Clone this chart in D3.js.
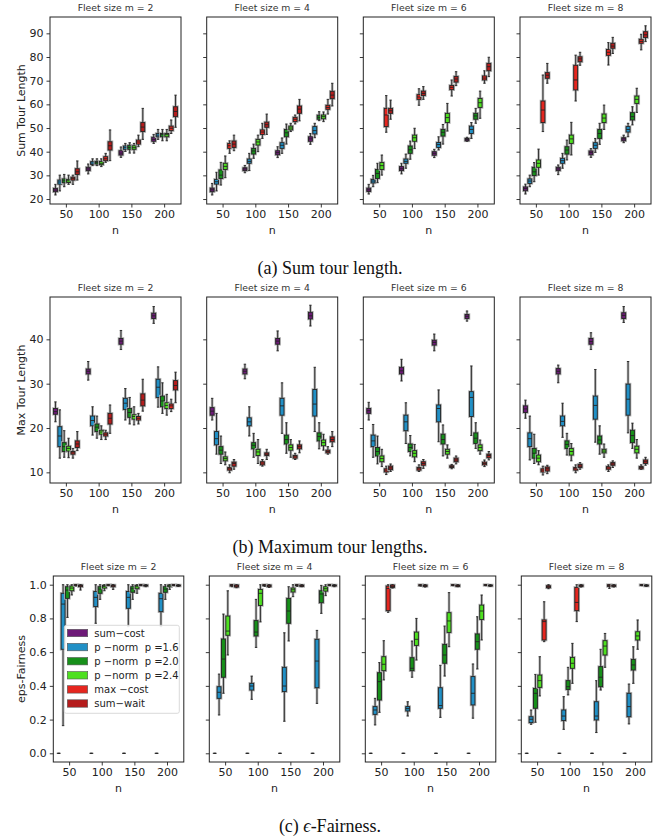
<!DOCTYPE html>
<html>
<head>
<meta charset="utf-8">
<script src="https://cdn.jsdelivr.net/npm/d3@7"></script>
<style>
  body { margin: 0; background: #fff; }
  svg { display: block; }
  .tick text { font-family: "DejaVu Sans", sans-serif; font-size: 11px; fill: #222; }
  .tick line { stroke: #222; stroke-width: 0.9; }
</style>
</head>
<body>
<svg id="fig" width="661" height="837"></svg>
<script>
// ---- categories and labels ----
const nValues = [50, 100, 150, 200];
const fleetSizes = [2, 4, 6, 8];
const methods = ["sum\u2212cost", "p \u2212norm  p =1.6", "p \u2212norm  p =2.0",
                 "p \u2212norm  p =2.4", "max \u2212cost", "sum\u2212wait"];
const methodColors = ["#6e1a78", "#2190c6", "#17901a", "#4ee020", "#e5261f", "#b51c1c"];

const sumTourTicks = [20, 30, 40, 50, 60, 70, 80, 90];
const maxTourTicks = [10, 20, 30, 40];
const fairnessTicks = [0, 0.2, 0.4, 0.6, 0.8, 1.0];

// ---- box statistics: [whisker low, q1, median, q3, whisker high] ----
// rows ordered by n (50, 100, 150, 200), then by method
const sumTourM2 = [
  [21.7,23.1,23.8,24.5,26.2],[23.4,26.3,27.2,28.0,30.1],[25.2,26.9,27.7,28.5,30.4],[26.2,27.0,27.7,28.3,30.1],[26.2,28.0,28.6,29.2,30.1],[28.0,30.4,31.5,32.8,36.1],
  [30.6,32.0,32.7,33.4,34.8],[34.1,34.6,35.2,35.8,37.0],[34.1,34.8,35.4,35.9,37.0],[33.7,34.5,35.1,35.9,37.0],[35.5,36.2,37.0,37.9,39.3],[36.2,40.7,42.5,44.2,49.2],
  [37.6,38.6,39.4,40.4,42.0],[40.1,41.0,41.7,42.4,43.5],[39.4,41.0,41.8,42.7,43.8],[39.4,41.0,41.7,42.5,43.5],[42.1,43.2,44.1,44.9,47.0],[45.2,48.5,50.4,52.3,58.3],
  [43.5,44.4,45.2,46.1,47.3],[45.2,46.3,47.0,47.7,49.4],[44.6,46.3,47.2,47.7,49.4],[44.6,46.3,47.2,47.7,49.4],[47.7,48.9,49.9,50.8,53.4],[50.3,54.8,57.0,59.0,63.9]
];
const sumTourM4 = [
  [21.7,23.1,23.9,24.6,26.6],[23.4,26.3,27.3,28.3,31.3],[25.9,28.7,30.1,32.3,35.5],[29.0,32.5,33.8,35.1,38.2],[39.3,41.4,42.5,43.5,44.6],[40.4,41.8,43.2,44.5,47.0],
  [31.1,32.0,32.7,33.2,34.2],[32.0,35.1,35.9,36.9,39.3],[37.2,39.0,40.3,41.4,43.2],[40.0,42.8,44.1,45.2,47.0],[45.6,47.3,48.3,49.2,52.0],[47.3,50.3,51.4,52.5,55.9],
  [37.5,38.7,39.6,40.4,42.1],[39.3,41.4,42.7,43.8,45.8],[43.2,46.3,48.0,49.4,51.7],[48.5,49.2,50.0,50.8,52.0],[51.7,52.7,53.7,54.5,55.5],[53.0,56.2,58.0,59.3,62.1],
  [43.1,44.4,45.4,46.3,47.7],[45.9,47.5,48.9,50.6,52.0],[53.1,53.7,54.5,55.4,56.9],[52.7,53.9,54.8,55.5,56.8],[55.9,57.9,58.7,59.6,62.1],[59.3,62.4,63.9,65.5,68.9]
];
const sumTourM6 = [
  [22.1,23.2,23.9,24.6,26.2],[25.2,26.8,27.6,28.3,30.0],[26.9,28.7,30.8,32.5,35.1],[30.1,32.5,34.1,35.4,38.6],[48.2,50.6,55.5,58.3,63.7],[53.7,56.2,57.3,58.3,61.8],
  [30.6,32.0,32.8,33.7,35.1],[33.0,35.1,35.9,36.9,39.0],[36.8,39.3,40.8,42.4,44.5],[41.3,44.4,45.9,47.0,49.9],[59.6,62.1,63.1,64.1,66.6],[62.1,63.7,64.6,65.6,67.5],
  [37.5,38.5,39.3,40.0,41.0],[40.7,41.8,43.0,43.9,46.3],[43.2,46.6,48.2,49.4,51.5],[48.7,52.3,54.4,56.2,60.4],[63.5,66.2,67.2,68.0,70.3],[67.9,69.4,70.7,71.8,73.8],
  [44.4,44.6,45.1,45.6,46.1],[45.6,47.7,49.4,50.8,52.3],[52.0,53.7,55.1,56.2,58.3],[54.1,58.7,60.7,62.5,65.6],[68.9,70.3,71.1,72.0,74.2],[71.7,74.2,75.9,77.3,79.9]
];
const sumTourM8 = [
  [22.1,23.5,24.4,25.1,26.3],[25.2,26.6,27.6,28.5,30.1],[27.3,29.9,31.5,33.4,35.4],[30.1,33.4,35.1,36.5,41.1],[48.5,52.3,57.6,61.4,72.4],[68.9,71.0,72.3,73.4,77.3],
  [30.3,32.0,32.7,33.4,34.4],[33.0,35.1,36.2,37.2,39.3],[36.5,39.0,40.7,42.1,44.9],[38.6,43.5,45.4,47.0,52.4],[61.4,66.1,70.3,76.5,80.8],[76.5,78.0,79.2,80.1,82.0],
  [37.6,38.7,39.6,40.3,41.3],[39.7,41.4,42.7,43.8,45.6],[43.1,45.6,47.7,49.4,52.0],[49.4,52.3,54.2,55.9,59.7],[76.6,80.7,82.0,83.2,86.1],[81.5,83.7,84.6,85.8,88.3],
  [43.8,44.6,45.4,45.9,47.0],[46.3,48.3,49.4,50.6,52.0],[51.3,53.4,54.8,56.5,59.0],[56.6,60.4,62.1,63.5,66.8],[83.0,85.8,86.6,87.5,89.6],[86.5,88.2,89.4,90.7,93.2]
];

const maxTourM2 = [
  [21.4,23.1,23.7,24.4,25.9],[13.2,15.8,18.2,20.3,24.1],[13.4,14.7,15.8,16.7,19.4],[13.3,14.8,15.4,15.9,17.7],[13.2,14.1,14.4,14.7,15.4],[14.9,15.6,16.4,17.1,19.2],
  [30.8,32.2,32.8,33.3,35.0],[18.4,20.5,21.7,22.7,24.8],[17.7,19.2,20.2,20.9,22.7],[17.4,18.6,19.1,19.5,20.5],[17.4,18.2,18.6,18.9,19.5],[18.8,20.9,22.2,23.3,25.2],
  [37.7,38.9,39.6,40.2,42.0],[21.8,24.2,25.6,26.7,28.9],[20.9,22.4,23.5,24.4,26.9],[20.7,22.0,22.6,23.0,24.8],[20.9,21.8,22.2,22.6,23.3],[23.8,25.0,26.3,27.7,31.0],
  [43.6,44.7,45.3,45.9,47.4],[24.7,26.9,29.2,31.0,33.8],[23.3,24.8,26.1,27.2,30.2],[22.9,24.4,25.1,25.7,27.6],[23.7,24.4,25.0,25.4,26.5],[25.7,28.6,29.6,30.7,32.6]
];
const maxTourM4 = [
  [21.8,22.9,23.8,24.6,26.7],[14.1,16.2,17.6,19.2,23.3],[12.0,14.1,15.0,15.8,18.2],[11.7,12.6,13.1,13.5,14.6],[9.9,10.5,10.8,11.1,11.7],[10.7,11.4,12.0,12.3,12.9],
  [31.1,32.2,32.8,33.3,34.4],[18.2,20.5,21.4,22.3,24.8],[13.4,15.3,16.1,16.7,18.8],[12.0,13.8,14.6,15.2,17.4],[11.4,11.7,12.1,12.4,12.9],[12.9,13.8,14.1,14.4,15.2],
  [37.4,38.9,39.6,40.2,41.9],[18.8,22.9,25.0,26.7,30.2],[14.3,16.4,17.4,18.4,21.2],[13.4,15.0,15.6,16.2,17.4],[12.9,13.2,13.5,13.8,14.3],[14.4,15.3,15.8,16.2,17.1],
  [43.0,44.6,45.3,46.1,47.7],[19.2,22.7,25.4,28.7,33.7],[15.3,17.1,18.1,18.9,21.2],[15.0,16.0,16.7,17.3,18.6],[14.1,14.4,14.7,15.0,15.8],[15.8,16.9,17.4,18.0,19.2]
];
const maxTourM6 = [
  [21.8,23.3,23.9,24.4,25.8],[13.4,15.8,17.1,18.4,20.8],[11.9,13.7,14.7,15.6,18.2],[11.3,12.4,13.1,13.7,15.2],[9.5,10.1,10.5,10.8,11.4],[10.2,10.6,11.0,11.4,11.9],
  [30.6,32.2,32.9,33.7,35.5],[16.5,19.4,21.4,22.9,25.7],[13.7,14.7,15.6,16.4,18.3],[12.4,13.5,14.3,14.9,16.3],[10.2,10.5,10.8,11.1,11.7],[10.9,11.6,12.0,12.4,12.9],
  [37.4,38.7,39.3,39.8,41.2],[16.9,21.4,24.4,25.2,28.6],[13.7,16.4,17.4,18.6,20.7],[13.2,14.1,14.7,15.2,16.2],[10.8,11.1,11.3,11.5,11.8],[11.9,12.4,12.8,13.2,13.7],
  [44.1,44.7,45.2,45.6,46.4],[18.3,22.6,26.9,28.2,34.0],[15.4,16.5,17.7,18.9,21.2],[14.1,14.9,15.6,16.2,17.3],[11.3,11.7,12.0,12.3,12.8],[12.8,13.3,13.8,14.1,14.7]
];
const maxTourM8 = [
  [22.2,23.5,24.3,25.0,26.3],[12.8,15.8,17.6,18.9,22.7],[12.0,13.2,14.3,15.4,18.6],[11.7,12.4,13.2,13.9,14.9],[9.4,10.1,10.5,10.8,11.4],[9.7,10.3,10.8,11.2,11.6],
  [30.2,32.2,32.8,33.4,34.2],[17.9,20.5,21.5,22.7,25.6],[13.9,15.4,16.3,17.1,18.8],[12.6,13.9,14.7,15.4,16.5],[9.9,10.5,10.8,11.1,11.7],[10.7,11.1,11.4,11.8,12.2],
  [37.7,38.9,39.5,40.2,41.5],[16.8,22.0,25.1,27.2,33.2],[14.1,16.4,17.3,18.2,20.5],[13.4,14.4,14.8,15.2,16.4],[10.2,10.7,11.0,11.3,11.7],[11.1,11.6,11.9,12.2,12.6],
  [43.8,44.7,45.4,46.0,47.4],[18.9,22.9,26.5,29.9,35.0],[15.4,16.7,18.3,19.5,21.1],[13.2,14.4,15.2,15.9,17.4],[10.7,10.8,11.1,11.3,11.7],[11.6,12.0,12.4,12.8,13.4]
];

const fairnessM2 = [
  [0,0,0,0,0],[0.164,0.617,0.885,0.949,1.0],[0.806,0.919,0.968,0.988,1.0],[0.939,0.964,0.980,0.992,1.0],[0.992,0.996,0.998,1.0,1.0],[0.968,0.988,0.994,0.998,1.0],
  [0,0,0,0,0],[0.771,0.870,0.925,0.960,1.0],[0.913,0.949,0.974,0.988,1.0],[0.964,0.980,0.990,0.996,1.0],[0.994,0.996,0.998,1.0,1.0],[0.972,0.988,0.994,0.998,1.0],
  [0,0,0,0,0],[0.751,0.860,0.925,0.960,1.0],[0.913,0.955,0.976,0.988,1.0],[0.949,0.976,0.988,0.996,1.0],[0.994,0.996,0.998,1.0,1.0],[0.988,0.992,0.995,0.998,1.0],
  [0,0,0,0,0],[0.751,0.840,0.917,0.949,1.0],[0.913,0.955,0.974,0.988,1.0],[0.972,0.988,0.994,0.998,1.0],[0.994,0.996,0.998,1.0,1.0],[0.990,0.992,0.995,0.998,1.0]
];
const fairnessM4 = [
  [0,0,0,0,0],[0.227,0.326,0.362,0.395,0.470],[0.356,0.451,0.559,0.678,0.826],[0.583,0.700,0.725,0.814,0.964],[0.988,0.992,0.996,1.0,1.0],[0.982,0.986,0.992,0.998,1.0],
  [0,0,0,0,0],[0.320,0.375,0.399,0.415,0.458],[0.628,0.696,0.719,0.787,0.913],[0.779,0.877,0.949,0.972,1.0],[0.990,0.994,0.997,1.0,1.0],[0.984,0.988,0.994,0.998,1.0],
  [0,0,0,0,0],[0.190,0.366,0.399,0.510,0.715],[0.666,0.771,0.844,0.919,0.988],[0.929,0.957,0.970,0.980,1.0],[0.990,0.994,0.997,1.0,1.0],[0.988,0.990,0.994,0.998,1.0],
  [0,0,0,0,0],[0.296,0.389,0.547,0.676,0.729],[0.830,0.893,0.945,0.964,0.996],[0.935,0.962,0.976,0.988,1.0],[0.994,0.996,0.998,1.0,1.0],[0.988,0.992,0.995,0.998,1.0]
];
const fairnessM6 = [
  [0,0,0,0,0],[0.168,0.231,0.257,0.277,0.326],[0.243,0.316,0.425,0.478,0.538],[0.435,0.490,0.528,0.573,0.668],[0.836,0.846,0.978,0.992,1.0],[0.980,0.984,0.990,0.998,1.0],
  [0,0,0,0,0],[0.221,0.251,0.265,0.277,0.306],[0.451,0.490,0.504,0.567,0.666],[0.553,0.640,0.676,0.719,0.800],[0.992,0.994,0.997,1.0,1.0],[0.986,0.990,0.994,0.998,1.0],
  [0,0,0,0,0],[0.213,0.267,0.283,0.389,0.522],[0.458,0.534,0.583,0.646,0.755],[0.632,0.717,0.785,0.834,0.953],[0.994,0.996,0.998,1.0,1.0],[0.988,0.990,0.994,0.998,1.0],
  [0,0,0,0,0],[0.208,0.287,0.356,0.455,0.530],[0.500,0.617,0.662,0.708,0.810],[0.672,0.794,0.844,0.879,0.939],[0.994,0.996,0.998,1.0,1.0],[0.990,0.992,0.995,0.998,1.0]
];
const fairnessM8 = [
  [0,0,0,0,0],[0.172,0.182,0.202,0.217,0.257],[0.184,0.267,0.356,0.385,0.468],[0.340,0.391,0.431,0.464,0.573],[0.662,0.672,0.781,0.791,0.899],[0.976,0.982,0.988,0.994,1.0],
  [0,0,0,0,0],[0.142,0.194,0.221,0.257,0.336],[0.346,0.379,0.395,0.431,0.510],[0.415,0.504,0.534,0.569,0.652],[0.781,0.846,0.895,0.984,1.0],[0.986,0.990,0.994,0.998,1.0],
  [0,0,0,0,0],[0.123,0.198,0.221,0.306,0.431],[0.375,0.395,0.451,0.514,0.617],[0.510,0.583,0.636,0.668,0.711],[0.978,0.990,0.995,1.0,1.0],[0.986,0.990,0.994,0.998,1.0],
  [0,0,0,0,0],[0.174,0.217,0.277,0.356,0.411],[0.415,0.494,0.524,0.557,0.632],[0.617,0.672,0.696,0.721,0.791],[0.994,0.996,0.998,1.0,1.0],[0.990,0.992,0.995,0.998,1.0]
];

// ---- layout of the three figure rows ----
const rows = [
  { stats: [sumTourM2, sumTourM4, sumTourM6, sumTourM8], ticks: sumTourTicks, fmt: d3.format("d"),
    domain: [17.9, 96.9], top: 17, bottom: 204, lefts: [50, 206.7, 363.3, 520], width: 131,
    ylabel: "Sum Tour Length", captionY: 268 },
  { stats: [maxTourM2, maxTourM4, maxTourM6, maxTourM8], ticks: maxTourTicks, fmt: d3.format("d"),
    domain: [7.6, 49.55], top: 297, bottom: 483, lefts: [50, 206.7, 363.3, 520], width: 131,
    ylabel: "Max Tour Length", captionY: 547 },
  { stats: [fairnessM2, fairnessM4, fairnessM6, fairnessM8], ticks: fairnessTicks, fmt: d3.format(".1f"),
    domain: [-0.0516, 1.0516], top: 576, bottom: 762, lefts: [53.3, 209.3, 365.3, 521.3], width: 130.5,
    ylabel: "eps-Fairness", captionY: 826, legend: true }
];

const svg = d3.select("#fig");
const FONT = "'DejaVu Sans', sans-serif";
const HALO = "#b4b4b4";
const LINE = "#222";

function drawPanel(row, col) {
  const left = row.lefts[col];
  const x = d3.scaleBand().domain(nValues).range([left, left + row.width]);
  const hue = d3.scaleBand().domain(d3.range(methods.length)).range([0, x.bandwidth() * 0.8]);
  const y = d3.scaleLinear().domain(row.domain).range([row.bottom, row.top]);
  const boxW = hue.bandwidth() * 0.9;
  const capW = boxW * 0.6;

  const boxes = row.stats[col].map((s, i) => ({
    n: nValues[Math.floor(i / methods.length)], k: i % methods.length,
    lo: s[0], q1: s[1], med: s[2], q3: s[3], hi: s[4]
  }));
  const cx = d => x(d.n) + x.bandwidth() * 0.1 + hue(d.k) + hue.bandwidth() / 2;

  const g = svg.append("g");

  // y axis ticks (labels only on the first column)
  const yAxis = d3.axisLeft(y).tickValues(row.ticks).tickSize(3.5).tickPadding(3)
    .tickFormat(col === 0 ? row.fmt : () => "");
  g.append("g").attr("transform", `translate(${left},0)`).call(yAxis)
    .call(a => a.select(".domain").remove());

  // x axis ticks at the n categories
  const xAxis = d3.axisBottom(x).tickSize(3.5).tickPadding(3);
  g.append("g").attr("transform", `translate(0,${row.bottom})`).call(xAxis)
    .call(a => a.select(".domain").remove());

  // one group per box
  const bg = g.append("g").selectAll("g").data(boxes).join("g");

  // soft grey halo under whiskers and boxes
  bg.append("line").attr("x1", cx).attr("x2", cx)
    .attr("y1", d => y(d.hi)).attr("y2", d => y(d.lo))
    .attr("stroke", HALO).attr("stroke-width", 2.6);
  bg.append("rect")
    .attr("x", d => cx(d) - boxW / 2).attr("width", boxW)
    .attr("y", d => y(d.q3)).attr("height", d => Math.max(0, y(d.q1) - y(d.q3)))
    .attr("fill", "none").attr("stroke", HALO).attr("stroke-width", 2.6);

  // whiskers and caps
  bg.append("line").attr("x1", cx).attr("x2", cx)
    .attr("y1", d => y(d.hi)).attr("y2", d => y(d.q3))
    .attr("stroke", LINE).attr("stroke-width", 0.9);
  bg.append("line").attr("x1", cx).attr("x2", cx)
    .attr("y1", d => y(d.q1)).attr("y2", d => y(d.lo))
    .attr("stroke", LINE).attr("stroke-width", 0.9);
  ["hi", "lo"].forEach(key => {
    bg.append("line")
      .attr("x1", d => cx(d) - capW / 2).attr("x2", d => cx(d) + capW / 2)
      .attr("y1", d => y(d[key])).attr("y2", d => y(d[key]))
      .attr("stroke", LINE).attr("stroke-width", 0.9);
  });

  // boxes
  bg.append("rect")
    .attr("x", d => cx(d) - boxW / 2).attr("width", boxW)
    .attr("y", d => y(d.q3)).attr("height", d => Math.max(0, y(d.q1) - y(d.q3)))
    .attr("fill", d => methodColors[d.k]).attr("stroke", LINE).attr("stroke-width", 0.9);

  // medians
  bg.append("line")
    .attr("x1", d => cx(d) - boxW / 2).attr("x2", d => cx(d) + boxW / 2)
    .attr("y1", d => y(d.med)).attr("y2", d => y(d.med))
    .attr("stroke", LINE).attr("stroke-width", 0.9);

  // frame
  g.append("rect").attr("x", left).attr("y", row.top)
    .attr("width", row.width).attr("height", row.bottom - row.top)
    .attr("fill", "none").attr("stroke", LINE).attr("stroke-width", 1);

  // panel title
  g.append("text").attr("x", left + row.width / 2).attr("y", row.top - 6)
    .attr("text-anchor", "middle").attr("font-family", FONT).attr("font-size", 9.3)
    .attr("fill", "#333").text(`Fleet size m = ${fleetSizes[col]}`);

  // x axis label
  g.append("text").attr("x", left + row.width / 2).attr("y", row.bottom + 30)
    .attr("text-anchor", "middle").attr("font-family", FONT).attr("font-size", 11)
    .attr("fill", "#222").text("n");

  if (col === 0) {
    g.append("text")
      .attr("transform", `translate(${21},${(row.top + row.bottom) / 2}) rotate(-90)`)
      .attr("text-anchor", "middle").attr("dominant-baseline", "central")
      .attr("font-family", FONT).attr("font-size", 11).attr("fill", "#222")
      .text(row.ylabel);
  }

  if (row.legend && col === 0) {
    const lg = g.append("g");
    lg.append("rect").attr("x", 64.3).attr("y", 625.3).attr("width", 115).attr("height", 88)
      .attr("rx", 2).attr("fill", "#fff").attr("fill-opacity", 0.9)
      .attr("stroke", "#d0d0d0").attr("stroke-width", 0.8);
    const items = lg.selectAll("g").data(methods).join("g")
      .attr("transform", (d, i) => `translate(0,${633 + i * 14.1})`);
    items.append("rect").attr("x", 67.3).attr("y", -3.7).attr("width", 20.4).attr("height", 7.4)
      .attr("fill", (d, i) => methodColors[i]).attr("stroke", "#555").attr("stroke-width", 0.6);
    items.append("text").attr("x", 94.3).attr("y", 0).attr("dominant-baseline", "central")
      .attr("font-family", FONT).attr("font-size", 10).attr("fill", "#222")
      .style("white-space", "pre").text(d => d);
  }
}

rows.forEach(row => fleetSizes.forEach((m, col) => drawPanel(row, col)));

// sub-figure captions
const CAP_FONT = "'Liberation Serif', 'Times New Roman', serif";
const CAP_SIZE = 18;
function caption(yPos) {
  return svg.append("text").attr("x", 330).attr("y", yPos).attr("text-anchor", "middle")
    .attr("dominant-baseline", "central").attr("font-family", CAP_FONT)
    .attr("font-size", CAP_SIZE).attr("fill", "#111");
}
caption(rows[0].captionY).text("(a) Sum tour length.");
caption(rows[1].captionY).text("(b) Maximum tour lengths.");
const capC = caption(rows[2].captionY);
capC.append("tspan").text("(c) ");
capC.append("tspan").attr("font-style", "italic").text("\u03f5");
capC.append("tspan").text("-Fairness.");
</script>
</body>
</html>
